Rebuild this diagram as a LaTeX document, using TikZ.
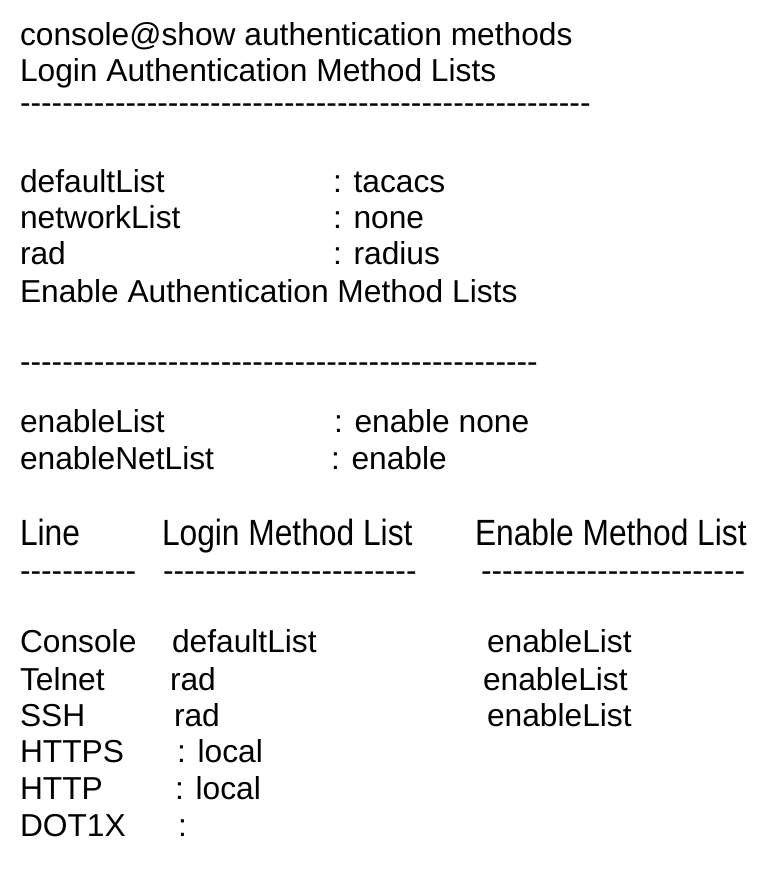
\documentclass[tikz,border=0pt]{standalone}
\usepackage{fontspec}
\setmainfont{Liberation Sans}
\newcommand{\dashrow}[1]{\foreach \k in {1,...,#1}{-\kern0pt}}
\begin{document}
\begin{tikzpicture}[x=0.75pt,y=-0.75pt,
  txt/.style={anchor=base west,inner sep=0pt,outer sep=0pt,font=\fontsize{23.8}{28}\selectfont},
  hdr/.style={txt,yscale=1.15}]
\useasboundingbox (0,0) rectangle (781,882);
\fill[white] (0,0) rectangle (781,882);
% header
\node[txt] (t1) at (20,45) {console@show authentication methods};
\node[txt] (t2) at (20,81) {Login Authentication Method Lists};
\node[txt] (d1) at (20,113) {\dashrow{54}};
% login lists
\node[txt] (a1) at (20,192) {defaultList};
\node[txt] (b1) at (333,192) {: tacacs};
\node[txt] (a2) at (20,228) {networkList};
\node[txt] (b2) at (333,228) {: none};
\node[txt] (a3) at (20,264) {rad};
\node[txt] (b3) at (333,264) {: radius};
\node[txt] (t3) at (20,302) {Enable Authentication Method Lists};
\node[txt] (d2) at (20,372) {\dashrow{49}};
\node[txt] (e1) at (20,432) {enableList};
\node[txt] (f1) at (334,432) {: enable none};
\node[txt] (e2) at (20,469) {enableNetList};
\node[txt] (f2) at (331,469) {: enable};
% table
\node[hdr] (h1) at (20,545) {Line};
\node[hdr] (h2) at (162,545) {Login Method List};
\node[hdr] (h3) at (475,545) {Enable Method List};
\node[txt] (hd1) at (20,581) {\dashrow{11}};
\node[txt] (hd2) at (163,581) {\dashrow{24}};
\node[txt] (hd3) at (481,581) {\dashrow{25}};
\node[txt] (r1) at (20,652) {Console};
\node[txt] (r1b) at (172,652) {defaultList};
\node[txt] (r1c) at (487,652) {enableList};
\node[txt] (r2) at (20,690) {Telnet};
\node[txt] (r2b) at (170,690) {rad};
\node[txt] (r2c) at (483,690) {enableList};
\node[txt] (r3) at (20,726) {SSH};
\node[txt] (r3b) at (174,726) {rad};
\node[txt] (r3c) at (487,726) {enableList};
\node[txt] (r4) at (20,762) {HTTPS};
\node[txt] (r4b) at (177,762) {: local};
\node[txt] (r5) at (20,799) {HTTP};
\node[txt] (r5b) at (175,799) {: local};
\node[txt] (r6) at (20,836) {DOT1X};
\node[txt] (r6b) at (178,836) {:};
\end{tikzpicture}
\end{document}
